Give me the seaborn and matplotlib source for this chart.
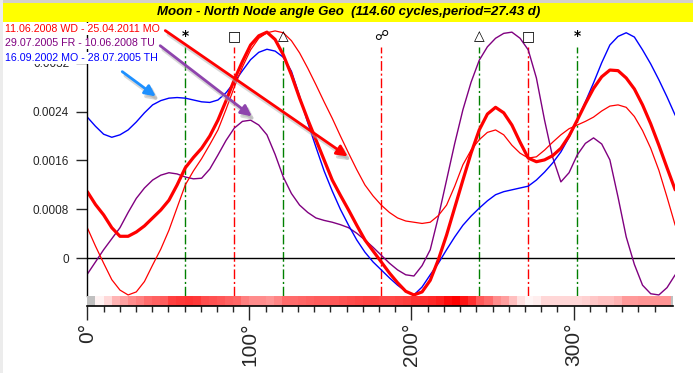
import numpy as np
import pandas as pd
import matplotlib
matplotlib.use("Agg")
import matplotlib.pyplot as plt
import seaborn as sns
from matplotlib.colors import LinearSegmentedColormap
from matplotlib.patches import Rectangle

# ---------------- data (every 5 degrees) ----------------
degrees = list(range(0, 361, 5))

thick_red = [0.00109, 0.00088, 0.00071, 0.00050, 0.00036, 0.00036, 0.00043, 0.00053, 0.00066, 0.00079,
             0.00095, 0.00120, 0.00148, 0.00165, 0.00180, 0.00200, 0.00226, 0.00258, 0.00292, 0.00322,
             0.00349, 0.00364, 0.00370, 0.00358, 0.00333, 0.00300, 0.00262, 0.00227, 0.00194, 0.00161,
             0.00128, 0.00103, 0.00079, 0.00054, 0.00030, 0.00012, -0.00006, -0.00024, -0.00040, -0.00054,
             -0.00060, -0.00055, -0.00036, -0.00002, 0.00038, 0.00083, 0.00128, 0.00172, 0.00210, 0.00236,
             0.00247, 0.00238, 0.00218, 0.00190, 0.00164, 0.00158, 0.00161, 0.00168, 0.00180, 0.00200,
             0.00226, 0.00253, 0.00278, 0.00297, 0.00308, 0.00307, 0.00295, 0.00277, 0.00251, 0.00220,
             0.00185, 0.00148, 0.00112]

thin_red = [0.00050, 0.00020, -0.00008, -0.00035, -0.00052, -0.00060, -0.00055, -0.00038, -0.00011, 0.00015,
            0.00046, 0.00083, 0.00120, 0.00143, 0.00163, 0.00186, 0.00210, 0.00244, 0.00280, 0.00313,
            0.00341, 0.00360, 0.00369, 0.00372, 0.00369, 0.00356, 0.00336, 0.00311, 0.00284, 0.00256,
            0.00229, 0.00200, 0.00172, 0.00145, 0.00120, 0.00102, 0.00087, 0.00075, 0.00066, 0.00061,
            0.00059, 0.00057, 0.00059, 0.00070, 0.00087, 0.00118, 0.00153, 0.00177, 0.00194, 0.00206,
            0.00210, 0.00202, 0.00185, 0.00172, 0.00164, 0.00166, 0.00177, 0.00190, 0.00202, 0.00212,
            0.00218, 0.00224, 0.00231, 0.00241, 0.00249, 0.00251, 0.00247, 0.00232, 0.00209, 0.00180,
            0.00144, 0.00100, 0.00054]

purple = [-0.00026, -0.00006, 0.00014, 0.00032, 0.00050, 0.00075, 0.00098, 0.00115, 0.00128, 0.00136,
          0.00140, 0.00138, 0.00133, 0.00130, 0.00131, 0.00146, 0.00169, 0.00193, 0.00213, 0.00224,
          0.00226, 0.00218, 0.00202, 0.00170, 0.00133, 0.00106, 0.00087, 0.00075, 0.00066, 0.00062,
          0.00059, 0.00055, 0.00050, 0.00041, 0.00030, 0.00018, 0.00005, -0.00008, -0.00019, -0.00027,
          -0.00029, -0.00012, 0.00014, 0.00068, 0.00128, 0.00188, 0.00243, 0.00288, 0.00324, 0.00346,
          0.00360, 0.00368, 0.00370, 0.00360, 0.00341, 0.00295, 0.00226, 0.00165, 0.00125, 0.00140,
          0.00169, 0.00188, 0.00197, 0.00187, 0.00161, 0.00100, 0.00035, -0.00010, -0.00044, -0.00058,
          -0.00060, -0.00048, -0.00027]

blue = [0.00231, 0.00216, 0.00203, 0.00198, 0.00202, 0.00210, 0.00223, 0.00238, 0.00251, 0.00258,
        0.00262, 0.00263, 0.00262, 0.00259, 0.00256, 0.00255, 0.00259, 0.00271, 0.00288, 0.00307,
        0.00325, 0.00337, 0.00342, 0.00339, 0.00329, 0.00306, 0.00265, 0.00222, 0.00182, 0.00143,
        0.00110, 0.00080, 0.00054, 0.00030, 0.00010, -0.00006, -0.00019, -0.00032, -0.00044, -0.00054,
        -0.00060, -0.00047, -0.00027, -0.00008, 0.00014, 0.00035, 0.00054, 0.00069, 0.00082, 0.00094,
        0.00104, 0.00109, 0.00112, 0.00115, 0.00118, 0.00128, 0.00141, 0.00156, 0.00174, 0.00198,
        0.00226, 0.00256, 0.00287, 0.00320, 0.00349, 0.00363, 0.00369, 0.00362, 0.00341, 0.00318,
        0.00292, 0.00264, 0.00234]

aspect_deg = [60, 90, 120, 180, 240, 270, 300]
aspect_sym = ["*", "\u25a1", "\u25b3", "\u260d", "\u25b3", "\u25a1", "*"]
aspect_col = ["#008000", "#ff0000", "#008000", "#ff0000", "#008000", "#ff0000", "#008000"]

# intensity strip, one cell per 5 degrees (first cell has no value -> grey)
strip_vals = [np.nan, 0.05, 0.15, 0.30, 0.37, 0.45, 0.50, 0.58, 0.62, 0.64, 0.75, 0.78,
              0.80, 0.78, 0.70, 0.68, 0.66, 0.62, 0.60, 0.50, 0.45, 0.45, 0.42, 0.48,
              0.58, 0.58, 0.60, 0.62, 0.64, 0.64, 0.66, 0.68, 0.70, 0.72, 0.74, 0.74,
              0.72, 0.72, 0.74, 0.76, 0.80, 0.82, 0.84, 0.88, 0.96, 1.00, 0.92, 0.82,
              0.65, 0.58, 0.45, 0.38, 0.25, 0.12, 0.04, 0.07, 0.16, 0.16, 0.16, 0.16,
              0.16, 0.18, 0.22, 0.25, 0.25, 0.30, 0.40, 0.40, 0.42, 0.42, 0.42, 0.42]

y_ticks = [0, 0.0008, 0.0016, 0.0024, 0.0032]
y_tick_labels = ["0", "0.0008", "0.0016", "0.0024", "0.0032"]
x_tick_labels = ["0\u00b0", "100\u00b0", "200\u00b0", "300\u00b0"]

legend_text = ["11.06.2008 WD - 25.04.2011 MO",
               "29.07.2005 FR - 10.06.2008 TU",
               "16.09.2002 MO - 28.07.2005 TH"]
legend_col = ["#ff0000", "#800080", "#0000ff"]
title = "Moon - North Node angle Geo  (114.60 cycles,period=27.43 d)"

# ---------------- figure ----------------
sns.set_style("white")
plt.rcParams["font.family"] = ["Liberation Sans", "DejaVu Sans"]

W, H = 693, 373
fig = plt.figure(figsize=(W / 100, H / 100), dpi=100)
fig.patch.set_facecolor("white")

# window chrome: grey strip on top/left, yellow title bar
fig.patches.append(Rectangle((0, 1 - 3 / H), 1, 3 / H, transform=fig.transFigure,
                             facecolor="#d4d0c8", edgecolor="none"))
fig.patches.append(Rectangle((0, 0), 3 / W, 1, transform=fig.transFigure,
                             facecolor="#ececec", edgecolor="none"))
fig.patches.append(Rectangle((3 / W, 1 - 22 / H), 1, 19 / H, transform=fig.transFigure,
                             facecolor="#ffff00", edgecolor="none"))
fig.text(349 / W, 1 - 12.5 / H, title, ha="center", va="center",
         fontsize=9.5, fontweight="bold", fontstyle="italic", color="black")

x0, x1 = 87.3, 675.2
ax = fig.add_axes([x0 / W, 1 - 296 / H, (x1 - x0) / W, (296 - 22) / H])
ax.set_facecolor("none")

sns.lineplot(x=degrees, y=purple, ax=ax, color="#800080", lw=1.0)
sns.lineplot(x=degrees, y=blue, ax=ax, color="#0000ff", lw=1.0)
sns.lineplot(x=degrees, y=thin_red, ax=ax, color="#ff0000", lw=0.9)
sns.lineplot(x=degrees, y=thick_red, ax=ax, color="#ff0000", lw=2.3)

ax.set_xlim(0, 360)
ax.set_ylim(-0.000617, 0.003866)
ax.axhline(0, color="black", lw=1, zorder=1)

# aspect lines + symbols
for d, s, c in zip(aspect_deg, aspect_sym, aspect_col):
    ax.vlines(d, -0.000617, 0.003457, colors=c, lw=1, linestyles=(0, (7, 2, 1.5, 2)), zorder=0.5)
    ax.text(d, 0.949, s, transform=ax.get_xaxis_transform(), ha="center", va="center",
            fontsize=10, fontweight="bold", color="black", family="DejaVu Sans")

ax.set_xticks([])
ax.set_yticks(y_ticks)
ax.set_yticklabels(y_tick_labels)
ax.tick_params(axis="y", direction="out", length=8, width=1, pad=5, labelsize=8.5, left=True)
for side in ["top", "right", "bottom"]:
    ax.spines[side].set_visible(False)
ax.spines["left"].set_color("black")
ax.spines["left"].set_linewidth(1)
ax.set_xlabel("")
ax.set_ylabel("")

# intensity strip under the plot
sax = fig.add_axes([x0 / W, 1 - 306 / H, (673 - x0) / W, 10.3 / H])
sax.set_facecolor("#c0c0c0")
strip = pd.DataFrame([strip_vals])
cmap = LinearSegmentedColormap.from_list("wr", ["#ffffff", "#ff0000"])
sns.heatmap(strip, ax=sax, cmap=cmap, vmin=0, vmax=1, cbar=False, mask=strip.isna(),
            xticklabels=False, yticklabels=False)
sax.set_xlim(0, 72 * (675.2 - x0) / (673 - x0))
sax.set_xticks([0, 20, 40, 60])
sax.set_xticklabels(x_tick_labels, rotation=90, fontsize=15, va="top", ha="center")
sax.set_xticks(np.arange(0, 72, 2), minor=True)
sax.tick_params(axis="x", which="major", direction="out", length=10, width=1, pad=2, bottom=True)
sax.tick_params(axis="x", which="minor", direction="out", length=4.5, width=1, bottom=True)
sax.set_yticks([])
for side in ["top", "right", "left"]:
    sax.spines[side].set_visible(False)
sax.spines["bottom"].set_visible(True)
sax.spines["bottom"].set_color("black")
sax.spines["bottom"].set_linewidth(1.2)
sax.set_xlabel("")
sax.set_ylabel("")

# legend lines (text) top-left
for i, (t, c) in enumerate(zip(legend_text, legend_col)):
    fig.text(5 / W, 1 - (29 + 14.5 * i) / H, t, ha="left", va="center", fontsize=7.7, color=c,
             bbox=dict(facecolor="white", edgecolor="none", pad=0.5))

# pointer arrows with soft shadows
arrows = [((163, 29), (350, 158), "#ff0000"),
          ((158, 44), (254, 118), "#8e44ad"),
          ((120, 70), (158, 98), "#1e90ff")]
for (sx, sy), (ex, ey), c in arrows:
    ax.annotate("", xy=(ex + 3, H - ey - 4), xytext=(sx + 3, H - sy - 4),
                xycoords="figure pixels", textcoords="figure pixels",
                arrowprops=dict(arrowstyle="-|>", color="#b0b0b0", lw=2.5, alpha=0.5, mutation_scale=16))
    ax.annotate("", xy=(ex, H - ey), xytext=(sx, H - sy),
                xycoords="figure pixels", textcoords="figure pixels",
                arrowprops=dict(arrowstyle="-|>", color=c, lw=2, mutation_scale=16))

fig.savefig("out.png", dpi=100)
